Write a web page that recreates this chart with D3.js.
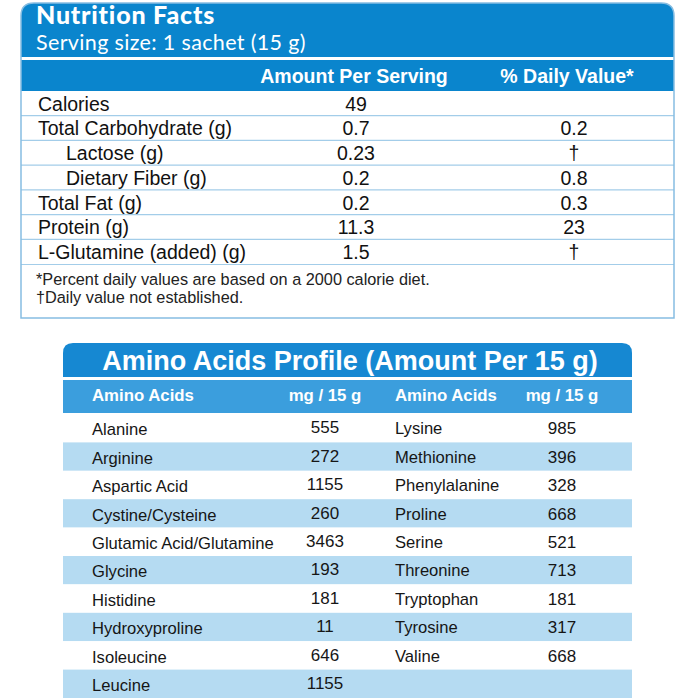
<!DOCTYPE html>
<html>
<head>
<meta charset="utf-8">
<script src="https://cdn.jsdelivr.net/npm/d3@7"></script>
<style>
  body { margin: 0; background: #fff; }
  svg { display: block; }
</style>
</head>
<body>
<svg id="chart"></svg>
<script>
// Nutrition facts data
const nutrients = ["Calories", "Total Carbohydrate (g)", "Lactose (g)", "Dietary Fiber (g)",
    "Total Fat (g)", "Protein (g)", "L-Glutamine (added) (g)"];
const indented = [false, false, true, true, false, false, false];
const amounts = ["49", "0.7", "0.23", "0.2", "0.2", "11.3", "1.5"];
const dailyValues = ["", "0.2", "†", "0.8", "0.3", "23", "†"];
const footnotes = ["*Percent daily values are based on a 2000 calorie diet.",
    "†Daily value not established."];

// Amino acids data (two column pairs)
const aminoLeft = ["Alanine", "Arginine", "Aspartic Acid", "Cystine/Cysteine", "Glutamic Acid/Glutamine",
    "Glycine", "Histidine", "Hydroxyproline", "Isoleucine", "Leucine"];
const aminoLeftMg = [555, 272, 1155, 260, 3463, 193, 181, 11, 646, 1155];
const aminoRight = ["Lysine", "Methionine", "Phenylalanine", "Proline", "Serine",
    "Threonine", "Tryptophan", "Tyrosine", "Valine"];
const aminoRightMg = [985, 396, 328, 668, 521, 713, 181, 317, 668];

const width = 700;
const height = 700;
const sans = "'Liberation Sans', Arial, Helvetica, sans-serif";
const headFont = "Lato, 'Open Sans', sans-serif";
const blue = "#0a85cd";
const borderBlue = "#86bde2";

const svg = d3.select("#chart")
    .attr("width", width)
    .attr("height", height)
    .attr("viewBox", [0, 0, width, height]);

function topRounded(x0, y0, x1, y1, r) {
    return `M${x0},${y1} L${x0},${y0 + r} Q${x0},${y0} ${x0 + r},${y0} L${x1 - r},${y0} Q${x1},${y0} ${x1},${y0 + r} L${x1},${y1}`;
}

// ---------- Nutrition Facts box ----------
const box = {x0: 21, x1: 674, top: 3, bottom: 318};
const nf = svg.append("g");

nf.append("path")
    .attr("d", topRounded(box.x0, box.top, box.x1, 57, 13) + " Z")
    .attr("fill", blue);

nf.append("rect")
    .attr("x", box.x0).attr("y", 60)
    .attr("width", box.x1 - box.x0).attr("height", 31)
    .attr("fill", blue);

nf.append("text")
    .attr("x", 36).attr("y", 24)
    .attr("font-family", headFont).attr("font-weight", 900)
    .attr("font-size", 25).attr("letter-spacing", 0.8)
    .attr("fill", "#fff")
    .text("Nutrition Facts");

nf.append("text")
    .attr("x", 36).attr("y", 50)
    .attr("font-family", headFont)
    .attr("font-size", 21.5).attr("letter-spacing", 0.35)
    .attr("fill", "#fff")
    .text("Serving size: 1 sachet (15 g)");

const colAmount = 354;
const colDaily = 567;

nf.append("g")
    .attr("font-family", sans).attr("font-weight", 700)
    .attr("font-size", 19.5).attr("fill", "#fff")
    .attr("text-anchor", "middle")
    .selectAll("text")
    .data([["Amount Per Serving", colAmount], ["% Daily Value*", colDaily]])
    .join("text")
        .attr("x", d => d[1]).attr("y", 83)
        .text(d => d[0]);

const y = d3.scaleBand()
    .domain(d3.range(nutrients.length))
    .range([91, 264]);

const row = nf.append("g")
    .attr("font-family", sans).attr("font-size", 19.5).attr("fill", "#111")
    .selectAll("g")
    .data(nutrients)
    .join("g")
        .attr("transform", (d, i) => `translate(0,${y(i)})`);

row.filter((d, i) => i > 0).append("line")
    .attr("x1", box.x0).attr("x2", box.x1)
    .attr("stroke", "#a3cde9").attr("stroke-width", 1.2);

row.append("text")
    .attr("x", (d, i) => indented[i] ? 66 : 38)
    .attr("y", y.bandwidth() - 5)
    .text(d => d);

row.append("text")
    .attr("x", colAmount + 2).attr("y", y.bandwidth() - 5)
    .attr("text-anchor", "middle")
    .text((d, i) => amounts[i]);

row.append("text")
    .attr("x", colDaily + 7).attr("y", y.bandwidth() - 5)
    .attr("text-anchor", "middle")
    .text((d, i) => dailyValues[i]);

nf.append("line")
    .attr("x1", box.x0).attr("x2", box.x1)
    .attr("y1", 264.5).attr("y2", 264.5)
    .attr("stroke", "#a3cde9").attr("stroke-width", 1.2);

nf.append("g")
    .attr("font-family", sans).attr("font-size", 16.3).attr("fill", "#222")
    .selectAll("text")
    .data(footnotes)
    .join("text")
        .attr("x", 36).attr("y", (d, i) => 285 + i * 17.5)
        .text(d => d);

nf.append("path")
    .attr("d", topRounded(box.x0, box.top, box.x1, box.bottom, 13) + " Z")
    .attr("fill", "none")
    .attr("stroke", borderBlue).attr("stroke-width", 1.5);

// ---------- Amino Acids Profile ----------
const am = {x0: 63, x1: 632, top: 343};
const aa = svg.append("g");

aa.append("path")
    .attr("d", topRounded(am.x0, am.top, am.x1, 377, 10) + " Z")
    .attr("fill", "#1688d2");

aa.append("text")
    .attr("x", 350).attr("y", 370)
    .attr("text-anchor", "middle")
    .attr("font-family", sans).attr("font-weight", 700)
    .attr("font-size", 27).attr("fill", "#fff")
    .text("Amino Acids Profile (Amount Per 15 g)");

aa.append("rect")
    .attr("x", am.x0).attr("y", 380)
    .attr("width", am.x1 - am.x0).attr("height", 33)
    .attr("fill", "#3b9edd");

const nameL = 92, valL = 325, nameR = 395, valR = 562;

aa.append("g")
    .attr("font-family", sans).attr("font-weight", 700)
    .attr("font-size", 16.8).attr("fill", "#fff")
    .selectAll("text")
    .data([["Amino Acids", nameL, "start"], ["mg / 15 g", valL, "middle"],
           ["Amino Acids", nameR, "start"], ["mg / 15 g", valR, "middle"]])
    .join("text")
        .attr("x", d => d[1]).attr("y", 401)
        .attr("text-anchor", d => d[2])
        .text(d => d[0]);

const ya = d3.scaleBand()
    .domain(d3.range(aminoLeft.length))
    .range([414, 698]);

const arow = aa.append("g")
    .attr("font-family", sans).attr("font-size", 16.6).attr("fill", "#161616")
    .selectAll("g")
    .data(aminoLeft)
    .join("g")
        .attr("transform", (d, i) => `translate(0,${ya(i)})`);

arow.append("rect")
    .attr("x", am.x0).attr("width", am.x1 - am.x0)
    .attr("height", ya.bandwidth())
    .attr("fill", (d, i) => i % 2 ? "#b5dbf2" : "#fff");

const base = ya.bandwidth() - 7;

arow.append("text")
    .attr("x", nameL).attr("y", base)
    .text(d => d);

arow.append("text")
    .attr("x", valL).attr("y", base - 2)
    .attr("text-anchor", "middle")
    .attr("font-size", 17)
    .text((d, i) => aminoLeftMg[i]);

arow.append("text")
    .attr("x", nameR).attr("y", base - 1)
    .text((d, i) => aminoRight[i] || "");

arow.append("text")
    .attr("x", valR).attr("y", base - 1)
    .attr("text-anchor", "middle")
    .attr("font-size", 17)
    .text((d, i) => aminoRightMg[i] !== undefined ? aminoRightMg[i] : "");
</script>
</body>
</html>
